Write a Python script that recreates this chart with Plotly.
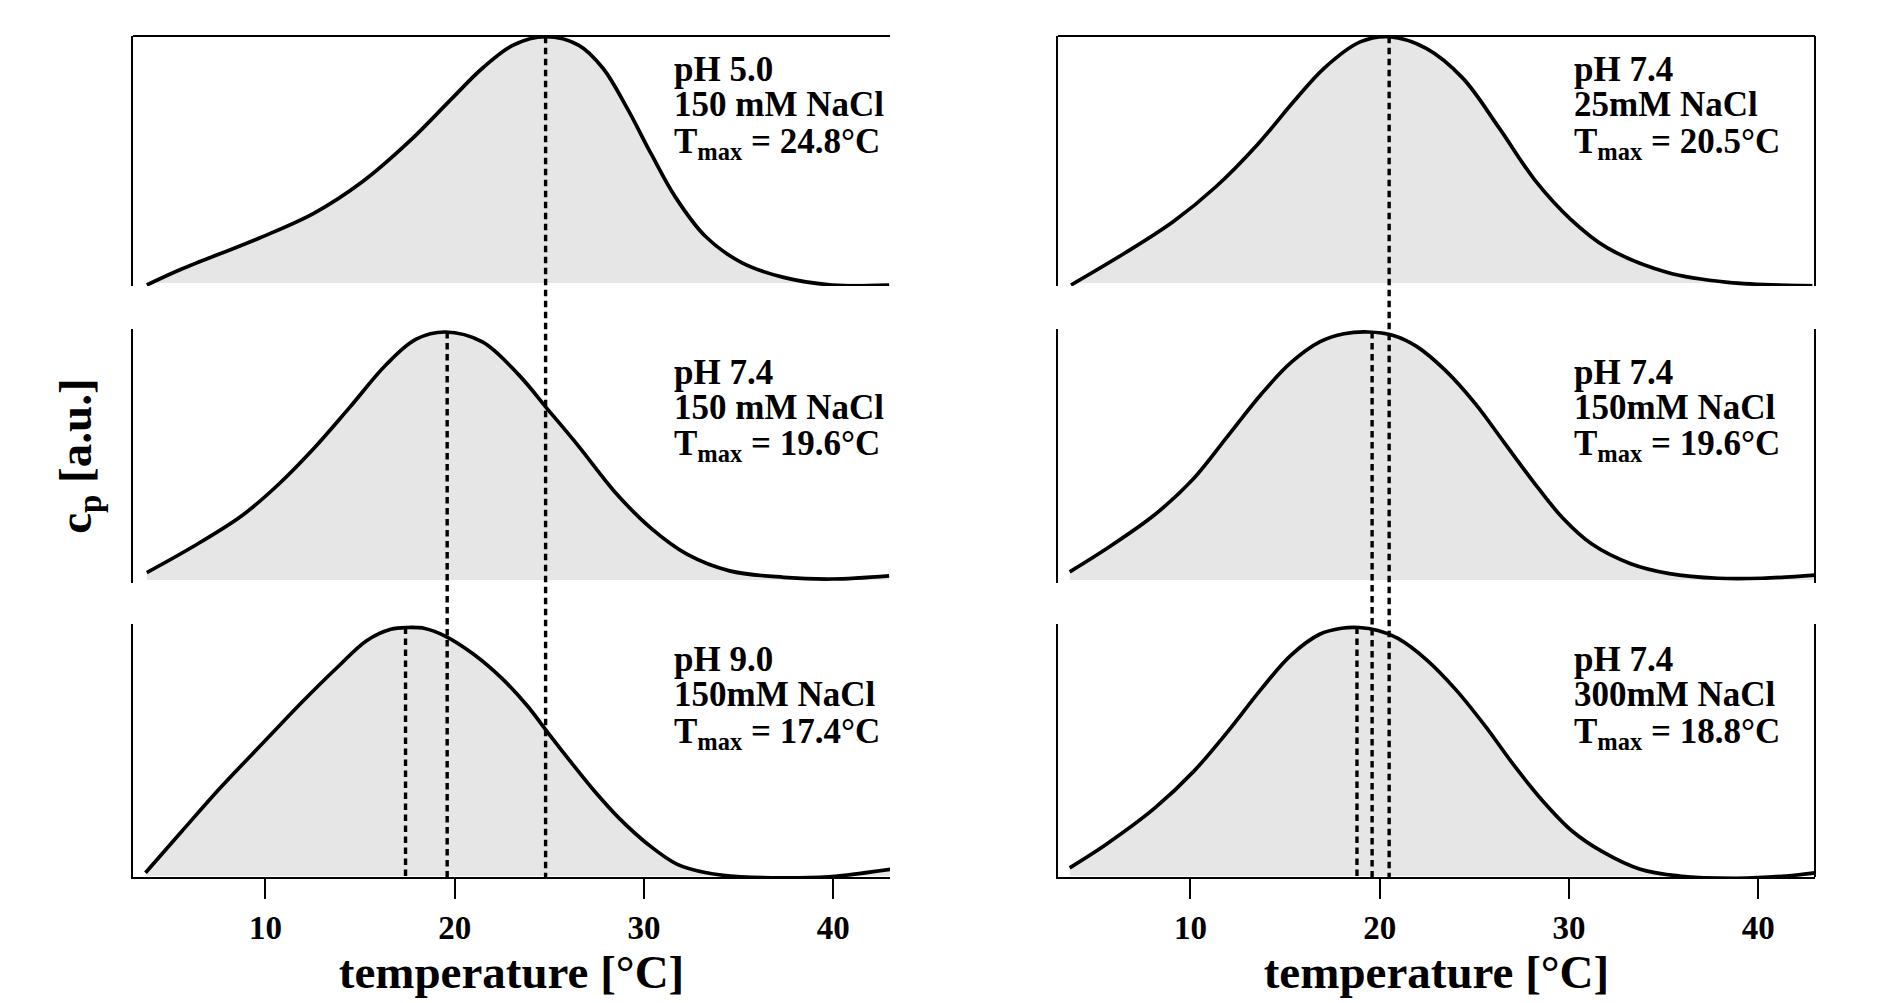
import plotly.graph_objects as go

# ---------------- data ----------------
# left column
t_ph50 = [3.73, 5.54, 9.68, 12.55, 15.1, 17.64, 19.87, 21.46, 23.06, 24.8, 26.56, 27.83,
          29.1, 30.38, 31.65, 33.24, 35.16, 37.38, 39.93, 42.95]
cp_ph50 = [-0.008, 0.056, 0.183, 0.283, 0.41, 0.578, 0.751, 0.872, 0.965, 1.0, 0.965, 0.872,
           0.711, 0.524, 0.35, 0.19, 0.083, 0.023, -0.008, -0.008]

t_ph74a = [3.73, 6.18, 8.73, 10.64, 12.55, 14.46, 16.37, 17.96, 19.5, 21.46, 23.37, 24.97,
           26.56, 28.47, 30.38, 32.29, 34.52, 37.38, 39.93, 42.95]
cp_ph74a = [0.03, 0.135, 0.258, 0.382, 0.53, 0.697, 0.868, 0.971, 1.0, 0.96, 0.828, 0.683,
            0.538, 0.354, 0.208, 0.103, 0.037, 0.011, 0.004, 0.017]

t_ph90 = [3.66, 5.58, 7.64, 9.95, 12.0, 13.8, 15.34, 16.62, 17.52, 18.42, 19.44, 20.98,
          22.52, 23.81, 24.96, 26.12, 27.4, 28.68, 30.22, 31.76, 33.3, 35.1, 38.18, 40.23, 43.06]
cp_ph90 = [0.013, 0.18, 0.357, 0.542, 0.705, 0.84, 0.947, 0.993, 1.0, 0.996, 0.967, 0.893,
           0.793, 0.687, 0.573, 0.46, 0.34, 0.233, 0.127, 0.047, 0.013, -0.003, -0.007, 0.0, 0.027]

# right column
t_na25 = [3.69, 6.56, 9.1, 11.33, 13.56, 15.47, 17.06, 18.97, 20.5, 22.48, 24.39, 26.3,
          28.21, 30.12, 32.03, 35.21, 38.4, 42.86]
cp_na25 = [-0.008, 0.123, 0.25, 0.39, 0.564, 0.738, 0.872, 0.979, 1.0, 0.952, 0.832, 0.631,
           0.417, 0.257, 0.143, 0.043, 0.003, -0.011]

t_na150 = [3.62, 5.54, 8.11, 10.16, 11.96, 13.75, 15.29, 16.83, 18.12, 19.4, 20.68, 21.97,
           23.51, 25.05, 26.59, 28.13, 29.67, 31.21, 33.26, 35.31, 37.88, 40.19, 43.0]
cp_na150 = [0.033, 0.125, 0.263, 0.408, 0.579, 0.75, 0.875, 0.96, 0.993, 1.0, 0.987, 0.941,
            0.842, 0.711, 0.553, 0.395, 0.25, 0.145, 0.066, 0.026, 0.007, 0.007, 0.02]

t_na300 = [3.62, 5.54, 8.11, 10.16, 11.96, 13.75, 15.29, 16.83, 17.99, 18.89, 19.91, 20.94,
           22.48, 24.02, 25.56, 27.1, 28.64, 30.18, 31.72, 33.77, 35.83, 38.91, 41.47, 43.0]
cp_na300 = [0.033, 0.127, 0.273, 0.42, 0.58, 0.753, 0.887, 0.973, 0.997, 1.0, 0.988, 0.957,
            0.87, 0.75, 0.605, 0.445, 0.30, 0.18, 0.10, 0.027, 0.0, -0.009, 0.0, 0.013]

# labels
ph_labels = ["pH 5.0", "pH 7.4", "pH 9.0", "pH 7.4", "pH 7.4", "pH 7.4"]
salt_labels = ["150 mM NaCl", "150 mM NaCl", "150mM NaCl", "25mM NaCl", "150mM NaCl", "300mM NaCl"]
tmax_values = [24.8, 19.6, 17.4, 20.5, 19.6, 18.8]

x_ticks = [10, 20, 30, 40]
x_title = "temperature [°C]"
y_title = "c<sub>p</sub> [a.u.]"

# ---------------- layout parameters ----------------
temps = [t_ph50, t_ph74a, t_ph90, t_na25, t_na150, t_na300]
cps = [cp_ph50, cp_ph74a, cp_ph90, cp_na25, cp_na150, cp_na300]

col_dom = [(0.0, 0.4501), (0.5499, 1.0)]
row_dom = [(0.7027, 1.0), (0.3496, 0.6516), (0.0, 0.3008)]
row_yr = [[-0.012, 1.003], [-0.012, 1.012], [-0.004, 1.014]]
XR = [3.0, 43.0]
FONT = "Liberation Serif"
FILL = "#e6e6e6"

fig = go.Figure()

for i in range(6):
    col, row = divmod(i, 3)
    n = i + 1
    xa = "x" if n == 1 else f"x{n}"
    ya = "y" if n == 1 else f"y{n}"
    YR = row_yr[row]
    fig.add_trace(go.Scatter(
        x=temps[i], y=cps[i], mode="lines",
        line=dict(color="black", width=3.7, shape="spline", smoothing=1.0),
        fill="tozeroy", fillcolor=FILL,
        xaxis=xa, yaxis=ya, showlegend=False, hoverinfo="skip"))

    xkey = "xaxis" if n == 1 else f"xaxis{n}"
    ykey = "yaxis" if n == 1 else f"yaxis{n}"
    bottom = (row == 2)
    fig.layout[xkey] = dict(
        domain=col_dom[col], range=XR, anchor=ya,
        showgrid=False, zeroline=False,
        showline=bottom, linecolor="black", linewidth=2,
        ticks="outside" if bottom else "", ticklen=20, tickwidth=2, tickcolor="black",
        tickvals=x_ticks, showticklabels=bottom,
        tickfont=dict(family=FONT, size=33, color="black", weight="bold"),
        title=dict(text=f"<b>{x_title}</b>" if bottom else "",
                   font=dict(family=FONT, size=47, color="black"), standoff=6),
    )
    fig.layout[ykey] = dict(
        domain=row_dom[row], range=YR, anchor=xa,
        showgrid=False, zeroline=False, showline=True, linecolor="black", linewidth=2,
        ticks="", showticklabels=False,
    )

    dref_x = f"{xa} domain"
    dref_y = f"{ya} domain"
    # top border on top row
    if row == 0:
        fig.add_shape(type="line", xref=dref_x, yref=dref_y, x0=0, x1=1, y0=1, y1=1,
                      line=dict(color="black", width=2))
    # right border on right column
    if col == 1:
        fig.add_shape(type="line", xref=dref_x, yref=dref_y, x0=1, x1=1, y0=0, y1=1,
                      line=dict(color="black", width=2))

    # dashed Tmax line from the peak down to the bottom axis of the column
    peak = max(cps[i])
    d0, d1 = row_dom[row]
    y_peak_paper = d0 + (peak - YR[0]) / (YR[1] - YR[0]) * (d1 - d0)
    fig.add_shape(type="line", xref=xa, yref="paper",
                  x0=tmax_values[i], x1=tmax_values[i], y0=y_peak_paper, y1=0,
                  line=dict(color="black", width=3.4, dash="6.5px,4.5px"), layer="above")

    # text block
    tx = 0.712 if col == 0 else 0.679
    top_off = [33, 43, 35][row]
    h_px = [250, 254, 253][row]
    lines = [f"<b>{ph_labels[i]}</b>", f"<b>{salt_labels[i]}</b>",
             f"<b>T<sub>max</sub> = {tmax_values[i]}°C</b>"]
    for k, txt in enumerate(lines):
        yy = 1 - (top_off + k * 35.5 + (3 if k == 2 else 0)) / h_px
        fig.add_annotation(text=txt, xref=dref_x, yref=dref_y, x=tx, y=yy,
                           xanchor="left", yanchor="middle", showarrow=False,
                           font=dict(family=FONT, size=35, color="black"))

# y title
fig.add_annotation(text=f"<b>{y_title}</b>", xref="paper", yref="paper",
                   x=-0.0325, y=0.5, xanchor="center", yanchor="middle", textangle=-90,
                   showarrow=False, font=dict(family=FONT, size=47, color="black"))

fig.update_layout(
    width=1890, height=1003,
    margin=dict(l=133, r=75, t=36, b=126),
    paper_bgcolor="white", plot_bgcolor="white",
    showlegend=False,
)

fig.write_html("out.html")
